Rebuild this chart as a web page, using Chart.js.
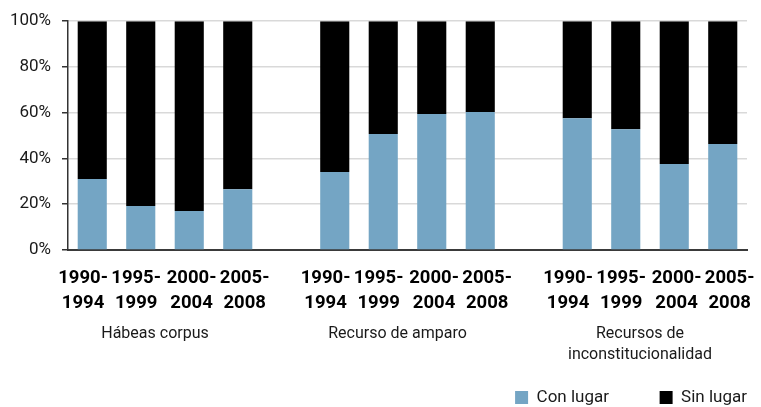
<!DOCTYPE html>
<html>
<head>
<meta charset="utf-8">
<script src="https://cdn.jsdelivr.net/npm/chart.js@4/dist/chart.umd.min.js"></script>
<style>
html,body{margin:0;padding:0;background:#fff;}
#wrap{width:761px;height:407px;position:relative;}
</style>
</head>
<body>
<div id="wrap"><canvas id="c" width="761" height="407"></canvas></div>
<script>
// ---- data ----
const periods = [["1990-","1994"],["1995-","1999"],["2000-","2004"],["2005-","2008"]];
const groupNames = ["Hábeas corpus", "Recurso de amparo", ["Recursos de","inconstitucionalidad"]];
const conHabeas = [31.0, 19.2, 17.0, 26.6];
const sinHabeas = [69.0, 80.8, 83.0, 73.4];
const conAmparo = [34.1, 50.7, 59.4, 60.3];
const sinAmparo = [65.9, 49.3, 40.6, 39.7];
const conInconst = [57.6, 52.8, 37.6, 46.3];
const sinInconst = [42.4, 47.2, 62.4, 53.7];
const yTicks = [0, 20, 40, 60, 80, 100];
const seriesNames = ["Con lugar", "Sin lugar"];

// build 14-slot category axis: group, gap, group, gap, group
const conGroups = [conHabeas, conAmparo, conInconst];
const sinGroups = [sinHabeas, sinAmparo, sinInconst];
const labels = [], conData = [], sinData = [], groupStarts = [];
conGroups.forEach((g, gi) => {
  if (gi > 0) { labels.push(""); conData.push(null); sinData.push(null); }
  groupStarts.push(labels.length);
  g.forEach((v, i) => { labels.push(periods[i]); conData.push(v); sinData.push(sinGroups[gi][i]); });
});

const FONT = 'Roboto, "Liberation Sans", sans-serif';
const NB = '\u00a0';

const groupLabelPlugin = {
  id: 'groupLabels',
  afterDraw(chart) {
    const x = chart.scales.x, ctx = chart.ctx;
    ctx.save();
    ctx.font = '16px ' + FONT;
    ctx.fillStyle = '#1a1a1a';
    ctx.textAlign = 'center';
    ctx.textBaseline = 'alphabetic';
    groupStarts.forEach((s, gi) => {
      const cx = (x.getPixelForValue(s) + x.getPixelForValue(s + 3)) / 2 - 10;
      const lines = [].concat(groupNames[gi]);
      lines.forEach((ln, li) => ctx.fillText(ln, cx, 338 + li * 21));
    });
    ctx.restore();
  }
};

new Chart(document.getElementById('c'), {
  type: 'bar',
  data: {
    labels: labels,
    datasets: [
      { label: seriesNames[0], data: conData, backgroundColor: '#74a5c4', barPercentage: 0.6, categoryPercentage: 1.0 },
      { label: seriesNames[1], data: sinData, backgroundColor: '#000000', barPercentage: 0.6, categoryPercentage: 1.0 }
    ]
  },
  options: {
    responsive: false,
    animation: false,
    layout: { padding: { top: 21, right: 14, left: 0, bottom: -9 } },
    plugins: {
      tooltip: { enabled: false },
      legend: {
        position: 'bottom',
        align: 'end',
        labels: {
          boxWidth: 13, boxHeight: 13, padding: 0,
          color: '#1a1a1a',
          font: { family: FONT, size: 17 },
          generateLabels(chart) {
            const items = Chart.defaults.plugins.legend.labels.generateLabels(chart);
            items.forEach((it, i) => { it.text = it.text + (i === 0 ? NB.repeat(12) : ''); it.lineWidth = 0; });
            return items;
          }
        }
      }
    },
    scales: {
      x: {
        stacked: true,
        grid: { display: false, drawTicks: false },
        border: { display: true, color: '#3a3a3a', width: 2 },
        afterFit(s) { s.height = 139; s.paddingLeft = 0; s.paddingRight = 0; },
        ticks: {
          autoSkip: false, maxRotation: 0, minRotation: 0,
          padding: 16,
          color: '#000',
          font: { family: FONT, size: 18.5, weight: 'bold', lineHeight: 1.35 },
          callback(value, index) {
            const lab = labels[index];
            if (!Array.isArray(lab)) return '';
            const pos = (index - groupStarts.filter(s => s <= index).pop());
            const pad = [[0,4],[0,2],[1,0],[3,0]][pos];
            return lab.map(t => NB.repeat(pad[0]) + t + NB.repeat(pad[1]));
          }
        }
      },
      y: {
        stacked: true,
        min: 0, max: 100,
        afterFit(s) { s.width = 68; },
        afterBuildTicks(s) { s.ticks = yTicks.map(v => ({ value: v })); },
        grid: { color: '#d9d9d9', lineWidth: 1.5, tickColor: '#333', tickLength: 6, drawTicks: true },
        border: { display: true, color: '#333', width: 1.5 },
        ticks: {
          padding: 11,
          color: '#1a1a1a',
          font: { family: FONT, size: 17 },
          callback: v => v + '%'
        }
      }
    }
  },
  plugins: [groupLabelPlugin]
});
</script>
</body>
</html>
